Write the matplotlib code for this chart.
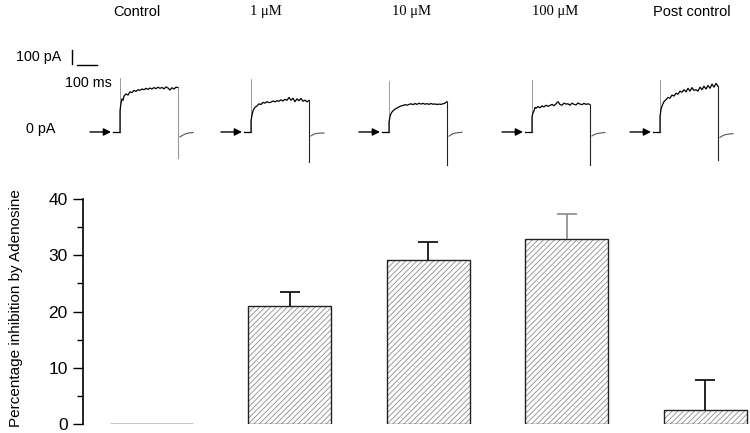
import matplotlib
matplotlib.use("Agg")
import matplotlib.pyplot as plt
import numpy as np

# ---------------- data ----------------
conditions = ["Control", "1 \u03bcM", "10 \u03bcM", "100 \u03bcM", "Post control"]
inhibition = [0.0, 21.0, 29.2, 32.9, 2.5]
inhibition_err = [0.0, 2.5, 3.2, 4.5, 5.3]

# current traces (time in ms after step onset, current in pA)
t_plateau = [0, 5, 10, 15, 20, 30, 40, 50, 60, 70, 80, 90, 100, 110, 120, 130,
             140, 150, 160, 170, 180, 190, 200, 210, 220, 230, 240, 250, 260,
             270, 280, 290]
i_control = [150, 205, 235, 225, 255, 270, 262, 285, 280, 295, 288, 300, 296,
             305, 300, 310, 302, 312, 305, 315, 308, 318, 310, 316, 306, 320,
             312, 298, 314, 305, 318, 315]
i_1uM = [80, 120, 150, 165, 175, 185, 200, 195, 210, 205, 215, 208, 212, 220,
         214, 222, 218, 228, 220, 232, 225, 245, 225, 240, 215, 235, 222, 238,
         218, 226, 214, 224]
i_10uM = [70, 110, 130, 142, 150, 162, 170, 178, 185, 188, 194, 190, 196, 200,
          194, 202, 196, 204, 198, 203, 197, 201, 196, 202, 197, 199, 195, 198,
          196, 200, 205, 215]
i_100uM = [110, 135, 150, 175, 168, 180, 172, 185, 178, 190, 182, 188, 196,
           186, 200, 215, 195, 190, 205, 198, 200, 190, 205, 196, 192, 206, 198,
           194, 203, 196, 200, 195]
i_post = [110, 160, 185, 200, 215, 230, 245, 240, 262, 255, 275, 268, 290, 282,
          300, 285, 310, 290, 315, 295, 300, 290, 318, 300, 325, 305, 330, 310,
          340, 318, 345, 325]
traces = [i_control, i_1uM, i_10uM, i_100uM, i_post]
spike_peak = [383, 376, 362, 369, 369]
drop_min = [-185, -213, -234, -234, -200]
t_tail = [10, 25, 40, 60, 75]
tail_control = [-35, -22, -12, -6, -4]
tail_1uM = [-28, -15, -10, -8, -7]
tail_10uM = [-30, -15, -8, -4, -2]
tail_100uM = [-28, -16, -10, -6, -4]
tail_post = [-38, -25, -18, -14, -12]
tails = [tail_control, tail_1uM, tail_10uM, tail_100uM, tail_post]

# ---------------- figure ----------------
SANS = ["Liberation Sans", "DejaVu Sans"]
SERIF = ["Liberation Serif", "DejaVu Serif"]
plt.rcParams["font.family"] = SANS
plt.rcParams["hatch.linewidth"] = 0.6

fig = plt.figure(figsize=(7.5, 4.33), dpi=100)

# ---- top panel: traces ----
axt = fig.add_axes([0, 0.596, 1, 0.404])
axt.set_xlim(0, 3750)
axt.set_ylim(-305, 937)
axt.axis("off")

onsets = [600, 1255, 1945, 2660, 3300]
title_x = [685, 1330, 2055, 2775, 3460]
title_fonts = [SANS, SERIF, SERIF, SERIF, SANS]
T_end = t_plateau[-1]

for k in range(5):
    on = onsets[k]
    vals = traces[k]
    # arrow
    axt.annotate("", xy=(on - 45, 0), xytext=(on - 150, 0),
                 arrowprops=dict(arrowstyle="-|>", color="black", lw=1.0,
                                 mutation_scale=11, shrinkA=0, shrinkB=0))
    # baseline
    axt.plot([on - 35, on], [0, 0], color="black", lw=0.9)
    # capacitive spike
    axt.plot([on, on], [0, spike_peak[k]], color="#8a8a8a", lw=0.6)
    # step + plateau
    axt.plot([on] + [on + t for t in t_plateau], [0] + vals,
             color="black", lw=0.9)
    # off-step drop
    axt.plot([on + T_end, on + T_end], [vals[-1], drop_min[k]],
             color="#9a9a9a" if k == 0 else "#222222", lw=0.8)
    # tail
    axt.plot([on + T_end + t for t in t_tail], tails[k],
             color="#555555", lw=0.8)
    # title
    axt.text(title_x[k], 852, conditions[k], ha="center", va="center",
             fontsize=10.5, family=title_fonts[k])

# scale bars
axt.plot([360, 360], [482, 582], color="black", lw=1.0)
axt.plot([385, 485], [476, 476], color="black", lw=1.0)
axt.text(305, 535, "100 pA", ha="right", va="center", fontsize=10.3)
axt.text(560, 348, "100 ms", ha="right", va="center", fontsize=10.3)
axt.text(275, 22, "0 pA", ha="right", va="center", fontsize=10.3)

# ---- bottom panel: bars ----
ax = fig.add_axes([0.1107, 0.0208, 0.8893, 0.5196])
x = np.arange(len(conditions))
ax.bar(x, inhibition, width=0.6, color="white", edgecolor="#8c8c8c",
       hatch="//////", linewidth=0)
ax.bar(x, inhibition, width=0.6, fill=False, edgecolor="#222222",
       linewidth=1.0)
ax.bar(x[:1], inhibition[:1], width=0.6, fill=False, edgecolor="#888888",
       linewidth=1.0)
err_colors = ["black", "black", "black", "#8a8a8a", "black"]
for i in range(1, 5):
    top = inhibition[i] + inhibition_err[i]
    ax.vlines(x[i], inhibition[i], top, color=err_colors[i], lw=1.2)
    ax.plot([x[i]], [top], marker="_", markersize=15, markeredgewidth=1.2,
            color=err_colors[i], linestyle="none")

ax.set_xlim(-0.495, 4.325)
ax.set_ylim(0, 40)
ax.set_yticks([0, 10, 20, 30, 40])
ax.set_yticks([5, 15, 25, 35], minor=True)
ax.tick_params(axis="y", which="major", length=7, width=1, labelsize=12.5,
               pad=4)
ax.tick_params(axis="y", which="minor", length=4, width=1)
ax.set_xticks([])
for s in ["top", "right", "bottom"]:
    ax.spines[s].set_visible(False)
ax.spines["left"].set_linewidth(1.2)
ax.set_ylabel("Percentage inhibition by Adenosine", fontsize=11)
ax.yaxis.set_label_coords(-0.09, 0.515)

fig.savefig("out.png", dpi=100)
